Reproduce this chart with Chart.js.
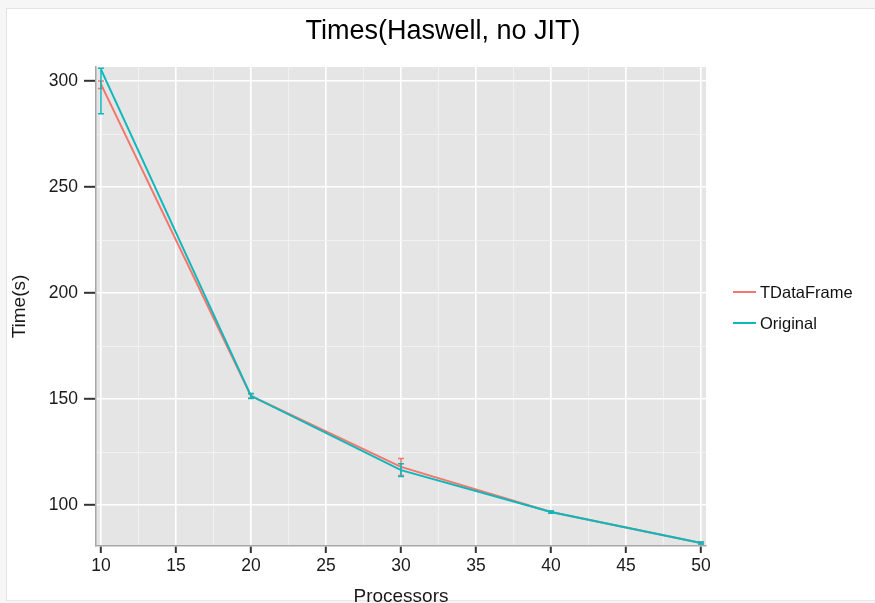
<!DOCTYPE html>
<html>
<head>
<meta charset="utf-8">
<script src="https://cdn.jsdelivr.net/npm/chart.js@4/dist/chart.umd.min.js"></script>
<style>
  html, body { margin: 0; padding: 0; background: #f6f6f6; overflow: hidden; }
  #frame { position: absolute; left: 6px; top: 8px; width: 880px; height: 591px; background: #fff;
           border-left: 1px solid #e3e3e3; border-top: 1px solid #e3e3e3; border-bottom: 1px solid #e8e8e8; }
  #wrap { position: absolute; left: 0; top: 0; width: 875px; height: 603px; }
</style>
</head>
<body>
<div id="frame"></div>
<div id="wrap"><canvas id="c" width="875" height="603"></canvas></div>
<script>
// ---- data ----
const TITLE = "Times(Haswell, no JIT)";
const X_TITLE = "Processors";
const Y_TITLE = "Time(s)";
const processors = [10, 20, 30, 40, 50];
const seriesNames = ["TDataFrame", "Original"];
const tdfTime = [298.5, 151.5, 118, 96.7, 82.1];
const tdfLow  = [296.5, 150.5, 114, 96.2, 81.6];
const tdfHigh = [300,   152.5, 122, 97.2, 82.6];
const origTime = [305.5, 151.5, 116.5, 96.7, 82.1];
const origLow  = [284.5, 150.3, 113.5, 96.2, 81.6];
const origHigh = [306,   152.6, 119.5, 97.2, 82.6];
const xTickValues = [10, 12.5, 15, 17.5, 20, 22.5, 25, 27.5, 30, 32.5, 35, 37.5, 40, 42.5, 45, 47.5, 50];
const yTickValues = [100, 125, 150, 175, 200, 225, 250, 275, 300];

const FONT = '"Liberation Sans", Arial, Helvetica, sans-serif';
const RED = '#F3776C', TEAL = '#0DB8BC';

const pts = (ys) => processors.map((x, i) => ({x: x, y: ys[i]}));

const panelBg = {
  id: 'panelBg',
  beforeDraw(chart) {
    const {ctx, chartArea: a} = chart;
    ctx.save();
    ctx.fillStyle = '#e5e5e5';
    ctx.fillRect(a.left, a.top, a.right - a.left, a.bottom - a.top);
    ctx.restore();
  }
};

const errorBars = {
  id: 'errorBars',
  afterDatasetDraw(chart, args) {
    const ds = chart.data.datasets[args.index];
    if (!ds.errLow) return;
    const {ctx, scales: {x, y}} = chart;
    ctx.save();
    ctx.strokeStyle = ds.borderColor;
    ctx.lineWidth = 1.5;
    ds.data.forEach((p, i) => {
      const px = x.getPixelForValue(p.x);
      const y1 = y.getPixelForValue(ds.errLow[i]);
      const y2 = y.getPixelForValue(ds.errHigh[i]);
      ctx.beginPath();
      ctx.moveTo(px, y1); ctx.lineTo(px, y2);
      ctx.moveTo(px - 3, y1); ctx.lineTo(px + 3, y1);
      ctx.moveTo(px - 3, y2); ctx.lineTo(px + 3, y2);
      ctx.stroke();
    });
    ctx.restore();
  }
};

const titleAndLegend = {
  id: 'titleAndLegend',
  afterDraw(chart) {
    const ctx = chart.ctx;
    ctx.save();
    ctx.fillStyle = '#000';
    ctx.font = '27px ' + FONT;
    ctx.textAlign = 'center';
    ctx.textBaseline = 'alphabetic';
    ctx.fillText(TITLE, 443, 39);
    ctx.font = '16.5px ' + FONT;
    ctx.textAlign = 'left';
    ctx.textBaseline = 'middle';
    chart.data.datasets.forEach((ds, i) => {
      const ly = 292 + i * 31;
      ctx.strokeStyle = ds.borderColor;
      ctx.lineWidth = 2;
      ctx.beginPath();
      ctx.moveTo(733, ly); ctx.lineTo(756, ly);
      ctx.stroke();
      ctx.fillStyle = '#111';
      ctx.fillText(ds.label, 760, ly + 1);
    });
    ctx.restore();
  }
};

new Chart(document.getElementById('c'), {
  type: 'line',
  data: {
    datasets: [
      { label: seriesNames[0], data: pts(tdfTime), errLow: tdfLow, errHigh: tdfHigh, order: 2,
        borderColor: RED, backgroundColor: RED, borderWidth: 2, pointRadius: 0, tension: 0 },
      { label: seriesNames[1], data: pts(origTime), errLow: origLow, errHigh: origHigh, order: 1,
        borderColor: TEAL, backgroundColor: TEAL, borderWidth: 2, pointRadius: 0, tension: 0 }
    ]
  },
  plugins: [panelBg, errorBars, titleAndLegend],
  options: {
    responsive: false,
    animation: false,
    events: [],
    layout: { autoPadding: false, padding: { left: 0, top: 67, right: 169, bottom: 0 } },
    plugins: { legend: { display: false }, title: { display: false }, tooltip: { enabled: false } },
    scales: {
      x: {
        type: 'linear',
        min: 9.67, max: 50.33,
        afterBuildTicks: (s) => { s.ticks = xTickValues.map(v => ({value: v})); },
        afterFit: (s) => { s.height = 57; },
        ticks: {
          autoSkip: false, maxRotation: 0, padding: 3,
          color: '#1a1a1a', font: { family: FONT, size: 17.5 },
          callback: (v) => (v % 5 === 0 ? String(v) : '')
        },
        grid: {
          drawTicks: true, tickLength: 7,
          color: (c) => (c.tick && c.tick.value % 5 === 0 ? '#ffffff' : '#f2f2f2'),
          lineWidth: (c) => (c.tick && c.tick.value % 5 === 0 ? 1.6 : 0.9),
          tickColor: (c) => (c.tick && c.tick.value % 5 === 0 ? '#333' : 'rgba(0,0,0,0)'),
          tickWidth: 2
        },
        border: { display: true, color: '#a8a8a8', width: 1.5 },
        title: { display: true, text: X_TITLE, color: '#1a1a1a',
                 font: { family: FONT, size: 19, lineHeight: 1 }, padding: { top: 0, bottom: -3 } }
      },
      y: {
        type: 'linear',
        min: 80.7, max: 306.6,
        afterBuildTicks: (s) => { s.ticks = yTickValues.map(v => ({value: v})); },
        afterFit: (s) => { s.width = 96; },
        ticks: {
          autoSkip: false, padding: 6,
          color: '#1a1a1a', font: { family: FONT, size: 17.5 },
          callback: (v) => (v % 50 === 0 ? String(v) : '')
        },
        grid: {
          drawTicks: true, tickLength: 12,
          color: (c) => (c.tick && c.tick.value % 50 === 0 ? '#ffffff' : '#f2f2f2'),
          lineWidth: (c) => (c.tick && c.tick.value % 50 === 0 ? 1.6 : 0.9),
          tickColor: (c) => (c.tick && c.tick.value % 50 === 0 ? '#333' : 'rgba(0,0,0,0)'),
          tickWidth: 2
        },
        border: { display: true, color: '#a8a8a8', width: 1.5 },
        title: { display: true, text: Y_TITLE, color: '#1a1a1a',
                 font: { family: FONT, size: 19, lineHeight: 1 }, padding: { top: 10, bottom: 0 } }
      }
    }
  }
});
</script>
</body>
</html>
